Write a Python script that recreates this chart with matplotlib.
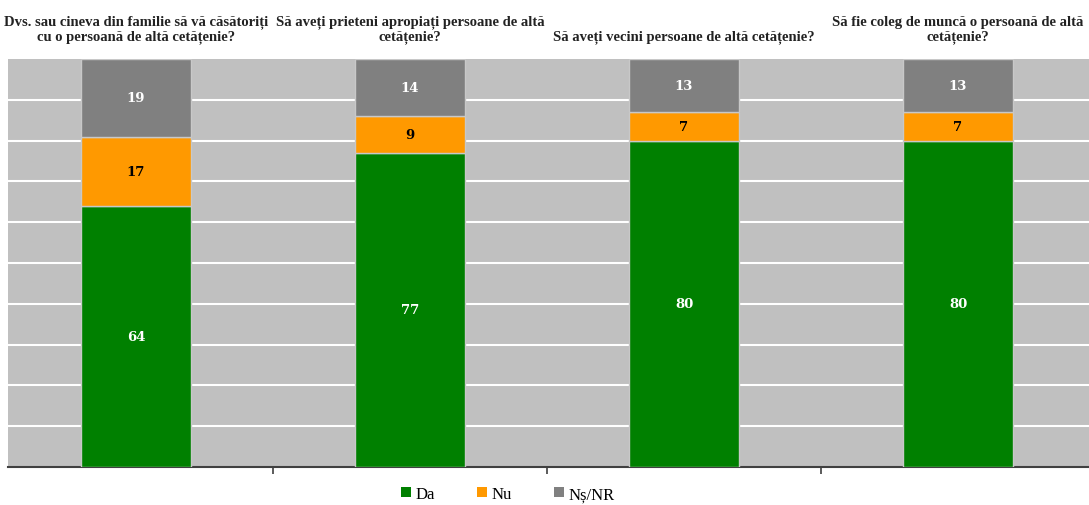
import matplotlib
matplotlib.use("Agg")
import matplotlib.pyplot as plt
from matplotlib.patches import Patch

questions = [
    "Dvs. sau cineva din familie să vă căsătoriți\ncu o persoană de altă cetățenie?",
    "Să aveți prieteni apropiați persoane de altă\ncetățenie?",
    "Să aveți vecini persoane de altă cetățenie?",
    "Să fie coleg de muncă o persoană de altă\ncetățenie?",
]
da = [64, 77, 80, 80]
nu = [17, 9, 7, 7]
nsnr = [19, 14, 13, 13]
series = ["Da", "Nu", "Nș/NR"]
colors = ["#008000", "#ff9900", "#808080"]
text_colors = ["white", "black", "white"]

W, H = 1089, 506
fig = plt.figure(figsize=(W / 100, H / 100), dpi=100)
ax = fig.add_axes([8 / W, (H - 468) / H, (W - 8) / W, 408 / H])
ax.set_facecolor("#c0c0c0")

x = list(range(len(questions)))
bottoms = [0] * len(x)
for vals, col, tcol in zip([da, nu, nsnr], colors, text_colors):
    bars = ax.bar(x, vals, width=0.4, bottom=bottoms, color=col,
                  edgecolor="#c8c8c8", linewidth=1, zorder=3)
    for b, v in zip(bars, vals):
        ax.text(b.get_x() + b.get_width() / 2, b.get_y() + v / 2, str(v),
                ha="center", va="center", color=tcol, fontsize=9.5,
                fontweight="bold", family="DejaVu Serif", zorder=4)
    bottoms = [a + v for a, v in zip(bottoms, vals)]

ax.set_ylim(0, 100)
ax.set_xlim(-0.467, 3.478)
for y in range(10, 100, 10):
    ax.axhline(y, color="white", lw=1.5, zorder=1)

for s in ["top", "right", "left"]:
    ax.spines[s].set_visible(False)
ax.spines["bottom"].set_color("#404040")
ax.spines["bottom"].set_linewidth(1.5)
ax.set_yticks([])
ax.set_xticks([0.5, 1.5, 2.5])
ax.set_xticklabels([])
ax.tick_params(axis="x", length=5, width=1.2, color="#404040")

for i, q in enumerate(questions):
    ax.text(i, 103.8, q, ha="center", va="bottom", fontsize=10.5,
            fontweight="bold", family="Liberation Serif", color="#222222",
            linespacing=1.2, clip_on=False)

handles = [Patch(facecolor=c, edgecolor="none") for c in colors]
fig.legend(handles, series, loc="center", bbox_to_anchor=(508 / W, 1 - 495 / H),
           ncol=3, frameon=False, handlelength=0.6, handleheight=0.6,
           columnspacing=2.5, handletextpad=0.3,
           prop={"family": "Liberation Serif", "size": 12})

fig.savefig("out.png", dpi=100)
